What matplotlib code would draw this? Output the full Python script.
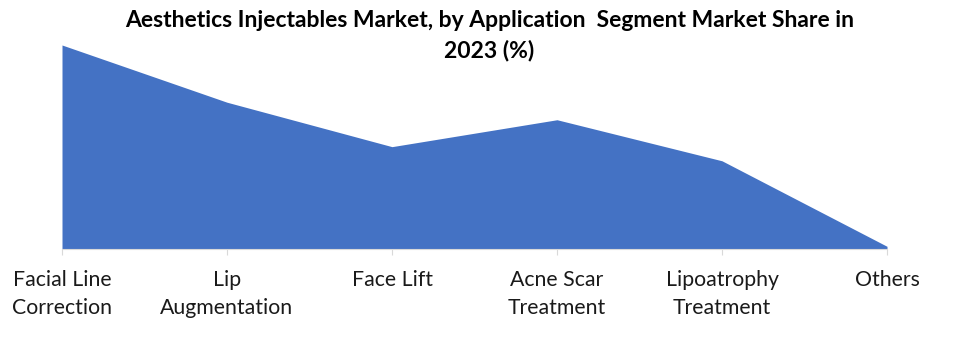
import matplotlib.pyplot as plt

# application segments and their market share (%)
segments = ['Facial Line\nCorrection', 'Lip\nAugmentation', 'Face Lift',
            'Acne Scar\nTreatment', 'Lipoatrophy\nTreatment', 'Others']
share = [30.3, 21.8, 15.2, 19.2, 13.1, 0.4]

plt.rcParams['font.family'] = ['Lato', 'DejaVu Sans']

fig = plt.figure(figsize=(9.79, 3.41), dpi=100)
ax = fig.add_axes([62 / 979, 92 / 341, 825 / 979, 204 / 341])

x = range(len(segments))
ax.fill_between(x, share, 0, color='#4472C4', linewidth=0)

ax.set_xlim(0, len(segments) - 1)
ax.set_ylim(0, max(share))
ax.set_xticks(list(x))
ax.set_xticklabels(segments, fontsize=15.3, color='#1a1a1a', linespacing=1.5)
ax.tick_params(axis='x', length=4, color='#D9D9D9', pad=11)
ax.set_yticks([])

for side in ['top', 'right', 'left']:
    ax.spines[side].set_visible(False)
ax.spines['bottom'].set_color('#D9D9D9')

fig.text(0.5, 1 - 10 / 341, 'Aesthetics Injectables Market, by Application  Segment Market Share in\n2023 (%)',
         ha='center', va='top', fontsize=16.5, fontweight='bold', linespacing=1.5)

fig.savefig('out.png', dpi=100)
